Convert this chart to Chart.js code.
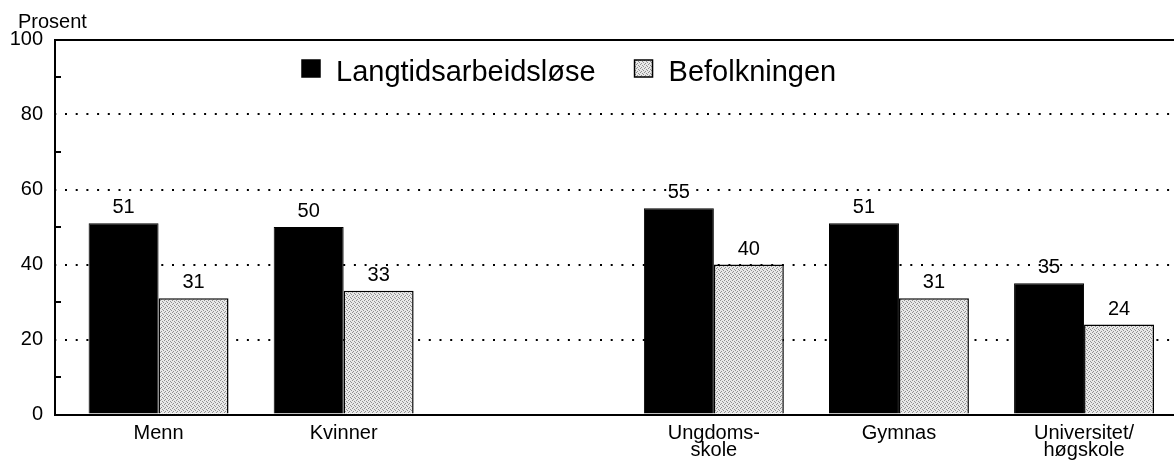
<!DOCTYPE html>
<html><head><meta charset="utf-8">
<script src="https://cdn.jsdelivr.net/npm/chart.js@4.4.0/dist/chart.umd.min.js"></script>
<style>html,body{margin:0;padding:0;background:#fff;} canvas{display:block;}</style>
</head><body>
<canvas id="c" width="1174" height="460"></canvas>
<script>
// ---- data ----
const categories = ['Menn', 'Kvinner', '', ['Ungdoms-', 'skole'], 'Gymnas', ['Universitet/', 'høgskole']];
const seriesNames = ['Langtidsarbeidsløse', 'Befolkningen'];
const langtid = [51, 50, null, 55, 51, 35];
const befolkning = [31, 33, null, 40, 31, 24];
const yTickLabels = [0, 20, 40, 60, 80, 100];
const yMinorTicks = [10, 30, 50, 70, 90];
const yTitle = 'Prosent';

const FONT = "'Liberation Sans', Arial, Helvetica, sans-serif";
Chart.defaults.font.family = FONT;
Chart.defaults.color = '#000';

const canvas = document.getElementById('c');
const ctx0 = canvas.getContext('2d');
function makePattern() {
  const p = document.createElement('canvas'); p.width = 4; p.height = 4;
  const g = p.getContext('2d');
  g.fillStyle = '#e8e8e8'; g.fillRect(0, 0, 4, 4);
  g.fillStyle = '#909090';
  g.fillRect(0, 0, 1, 1); g.fillRect(2, 1, 1, 1); g.fillRect(1, 3, 1, 1); g.fillRect(3, 2, 1, 1);
  return ctx0.createPattern(p, 'repeat');
}
const stipple = makePattern();

const toXY = arr => arr.map((v, i) => ({ x: i, y: v }));

const extras = {
  id: 'extras',
  afterDraw(chart) {
    const c = chart.ctx, ca = chart.chartArea, y = chart.scales.y;
    c.save();
    // minor ticks inside axis
    c.strokeStyle = '#000'; c.lineWidth = 2;
    yMinorTicks.forEach(v => {
      const py = y.getPixelForValue(v);
      c.beginPath(); c.moveTo(ca.left, py); c.lineTo(ca.left + 6, py); c.stroke();
    });
    // axis title
    c.fillStyle = '#000';
    c.font = '20px ' + FONT;
    c.textAlign = 'left'; c.textBaseline = 'alphabetic';
    c.fillText(yTitle, 18, 28);
    // value labels
    c.textAlign = 'center';
    chart.data.datasets.forEach((ds, di) => {
      const meta = chart.getDatasetMeta(di);
      meta.data.forEach((el, i) => {
        const v = ds.data[i].y;
        if (v === null || v === undefined) return;
        c.fillText(String(v), el.x, el.y - 10);
      });
    });
    // legend
    c.font = '29px ' + FONT;
    c.textAlign = 'left';
    let x = 302;
    chart.data.datasets.forEach((ds, di) => {
      c.fillStyle = ds.backgroundColor;
      c.fillRect(x, 60, 18, 17);
      c.strokeStyle = '#000'; c.lineWidth = 1.5;
      c.strokeRect(x, 60, 18, 17);
      c.fillStyle = '#000';
      const tx = x + 34;
      c.fillText(ds.label, tx, 81);
      x = tx + c.measureText(ds.label).width + 39;
    });
    c.restore();
  }
};

new Chart(canvas, {
  type: 'bar',
  data: {
    datasets: [
      { label: seriesNames[0], data: toXY(langtid), backgroundColor: '#000', borderColor: '#000', borderWidth: 1 },
      { label: seriesNames[1], data: toXY(befolkning), backgroundColor: stipple, borderColor: '#000', borderWidth: 1.5 }
    ]
  },
  options: {
    responsive: false,
    animation: false,
    devicePixelRatio: 1,
    layout: { padding: 0 },
    datasets: { bar: { categoryPercentage: 0.756, barPercentage: 1 } },
    plugins: { legend: { display: false }, tooltip: { enabled: false } },
    scales: {
      x: {
        type: 'linear', position: 'bottom', min: -0.5595, max: 5.486, offset: false,
        afterFit(s) { s.height = 45.5; },
        afterBuildTicks(s) {
          s.ticks = categories.map((c, i) => ({ value: i })).filter(t => categories[t.value] !== '');
        },
        ticks: { callback: v => categories[v], autoSkip: false, maxRotation: 0, minRotation: 0,
                 font: { size: 20, lineHeight: 0.82 }, padding: 11 },
        grid: { display: false, drawTicks: false },
        border: { display: true, color: '#000', width: 2 }
      },
      x2: {
        type: 'linear', position: 'top', min: -0.5595, max: 5.486,
        afterFit(s) { s.height = 39.5; },
        ticks: { display: false },
        grid: { display: false, drawTicks: false },
        border: { display: true, color: '#000', width: 2 }
      },
      y: {
        min: 0, max: 100,
        afterFit(s) { s.width = 55; },
        afterBuildTicks(s) {
          s.ticks = yTickLabels.concat(yMinorTicks).sort((a, b) => a - b).map(v => ({ value: v }));
        },
        ticks: { callback: v => (yTickLabels.includes(v) ? String(v) : ''), font: { size: 20 }, padding: 12 },
        grid: {
          drawTicks: false, lineWidth: 2,
          color: c => (c.tick && yTickLabels.includes(c.tick.value) && c.tick.value > 0 && c.tick.value < 100) ? '#000' : 'rgba(0,0,0,0)'
        },
        border: { display: true, color: '#000', width: 2, dash: [2, 8.7], dashOffset: -9 }
      }
    }
  },
  plugins: [extras]
});
</script>
</body></html>
